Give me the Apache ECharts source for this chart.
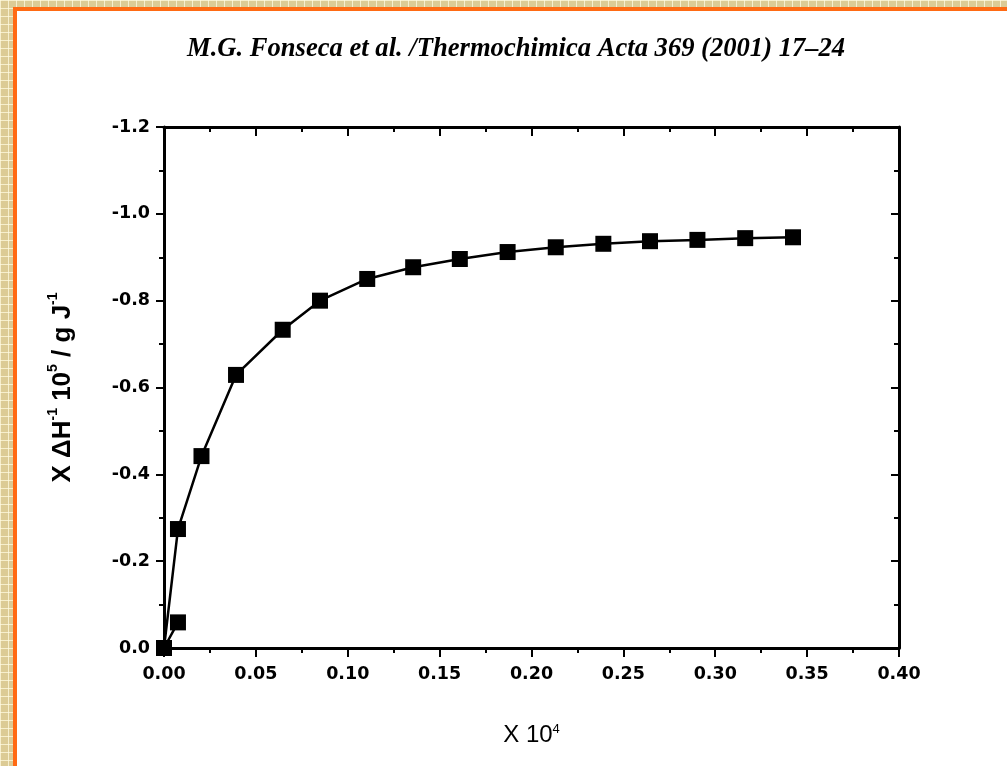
<!DOCTYPE html>
<html>
<head>
<meta charset="utf-8">
<script src="https://cdn.jsdelivr.net/npm/echarts@6/dist/echarts.min.js"></script>
<style>
  html, body { margin: 0; padding: 0; width: 1007px; height: 766px; overflow: hidden; }
  body {
    background-color: #dccb95;
    background-image:
      linear-gradient(to right, rgba(255,250,225,0.75) 1px, transparent 1px),
      linear-gradient(to bottom, rgba(255,250,225,0.75) 1px, transparent 1px);
    background-size: 8px 8px;
  }
  #frame {
    position: absolute; left: 13px; top: 7px; right: 0; bottom: 0;
    border-left: 4px solid #ff6a13; border-top: 4px solid #ff6a13;
    background: #ffffff;
  }
  #chart { position: absolute; left: 0; top: 0; width: 1007px; height: 766px; }
</style>
</head>
<body>
<div id="frame"></div>
<div id="chart"></div>
<script>
// Data (x in units of 10^-4, y = X ΔH^-1 10^5 / g J^-1)
var xValues = [0.0076, 0.0000, 0.0076, 0.0204, 0.0392, 0.0646, 0.0849, 0.1106, 0.1356, 0.1610, 0.1870, 0.2132, 0.2391, 0.2645, 0.2903, 0.3163, 0.3423];
var yValues = [-0.059, 0.000, -0.274, -0.442, -0.629, -0.733, -0.800, -0.850, -0.877, -0.896, -0.912, -0.923, -0.931, -0.937, -0.940, -0.944, -0.946];
var xTicks = { min: 0, max: 0.4, interval: 0.05 };
var yTicks = { min: -1.2, max: 0, interval: 0.2 };
var titleText = 'M.G. Fonseca et al. /Thermochimica Acta 369 (2001) 17\u201324';

var points = xValues.map(function (x, i) { return [x, yValues[i]]; });

var labelFont = { color: '#000', fontFamily: 'DejaVu Sans', fontWeight: 'bold', fontSize: 17.5 };
var black = '#000';

function xAxisDef(pos) {
  var top = pos === 'top';
  return {
    type: 'value', position: pos,
    min: xTicks.min, max: xTicks.max, interval: xTicks.interval,
    axisLine: { onZero: false, lineStyle: { color: black, width: 3 } },
    axisTick: { inside: top, length: 9, lineStyle: { color: black, width: 2 } },
    minorTick: { show: true, splitNumber: 2, length: 5, lineStyle: { color: black, width: 2 } },
    splitLine: { show: false },
    axisLabel: top ? { show: false } : Object.assign({ margin: 17, formatter: function (v) { return v.toFixed(2); } }, labelFont),
    name: top ? '' : 'X 10{s|4}',
    nameLocation: 'middle', nameGap: 75,
    nameTextStyle: top ? {} : {
      color: black, fontFamily: 'Liberation Sans', fontSize: 24,
      rich: { s: { fontSize: 13, verticalAlign: 'top', lineHeight: 12, fontFamily: 'Liberation Sans', color: black } }
    }
  };
}
function yAxisDef(pos) {
  var right = pos === 'right';
  return {
    type: 'value', position: pos, inverse: true,
    min: yTicks.min, max: yTicks.max, interval: yTicks.interval,
    axisLine: { onZero: false, lineStyle: { color: black, width: 3 } },
    axisTick: { inside: right, length: 8, lineStyle: { color: black, width: 2 } },
    minorTick: { show: true, splitNumber: 2, length: 5, lineStyle: { color: black, width: 2 } },
    splitLine: { show: false },
    axisLabel: right ? { show: false } : Object.assign({ margin: 14, formatter: function (v) { return Math.abs(v) < 1e-9 ? '0.0' : v.toFixed(1); } }, labelFont),
    name: right ? '' : '{t|X \u0394H}{s|-1}{t| 10}{s|5}{t| / g J}{s|-1}',
    nameLocation: 'middle', nameGap: 88, nameRotate: 90,
    nameTextStyle: right ? {} : {
      rich: {
        t: { fontSize: 26, fontFamily: 'Liberation Sans', fontWeight: 'bold', color: black, verticalAlign: 'bottom', lineHeight: 30 },
        s: { fontSize: 14, fontFamily: 'Liberation Sans', fontWeight: 'bold', color: black, verticalAlign: 'top', lineHeight: 13 }
      }
    }
  };
}

var chart = echarts.init(document.getElementById('chart'), null, { renderer: 'canvas' });
chart.setOption({
  animation: false,
  backgroundColor: 'transparent',
  title: {
    text: titleText, left: 182, top: 31,
    textStyle: { fontFamily: 'Liberation Serif', fontStyle: 'italic', fontWeight: 'bold', fontSize: 26.6, color: black }
  },
  grid: { left: 164, right: 108, top: 127, bottom: 118 },
  xAxis: [xAxisDef('bottom'), xAxisDef('top')],
  yAxis: [yAxisDef('left'), yAxisDef('right')],
  series: [{
    type: 'line', xAxisIndex: 0, yAxisIndex: 0,
    data: points,
    symbol: 'rect', symbolSize: 16,
    itemStyle: { color: black },
    lineStyle: { color: black, width: 2.5 },
    z: 3
  }]
});
</script>
</body>
</html>
